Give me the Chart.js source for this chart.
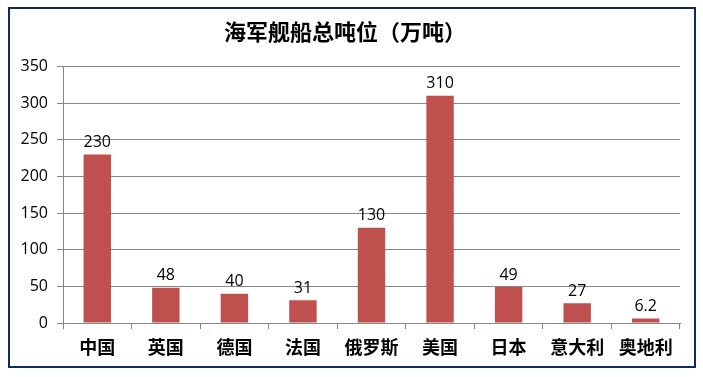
<!DOCTYPE html>
<html>
<head>
<meta charset="utf-8">
<script src="https://cdn.jsdelivr.net/npm/chart.js@4/dist/chart.umd.min.js"></script>
<style>
  body { margin: 0; background: #fff; }
  #box {
    position: absolute; left: 8px; top: 7px;
    width: 688px; height: 361px;
    border: 2px solid #0f2a5e; box-sizing: border-box;
  }
  canvas { display: block; }
</style>
</head>
<body>
<div id="box"><canvas id="chart" width="684" height="357"></canvas></div>
<script>
// 各国海军舰船总吨位
const countries = ['中国', '英国', '德国', '法国', '俄罗斯', '美国', '日本', '意大利', '奥地利'];
const tonnage = [230, 48, 40, 31, 130, 310, 49, 27, 6.2];
const yTicks = [0, 50, 100, 150, 200, 250, 300, 350];

const numFont = "'Open Sans', sans-serif";
const cjkFont = "'Noto Sans CJK SC', sans-serif";

// labels over the bars
const valueLabels = {
  id: 'valueLabels',
  afterDatasetsDraw(chart) {
    const ctx = chart.ctx;
    const meta = chart.getDatasetMeta(0);
    ctx.save();
    ctx.font = '16px ' + numFont;
    ctx.fillStyle = '#000';
    ctx.textAlign = 'center';
    ctx.textBaseline = 'bottom';
    meta.data.forEach((bar, i) => {
      ctx.fillText(String(tonnage[i]), bar.x, bar.y - 4);
    });
    ctx.restore();
  }
};

new Chart(document.getElementById('chart'), {
  type: 'bar',
  data: {
    labels: countries,
    datasets: [{
      data: tonnage,
      backgroundColor: '#c0504d',
      barPercentage: 0.4,
      categoryPercentage: 1.0
    }]
  },
  options: {
    responsive: false,
    animation: false,
    layout: { padding: { left: 0, right: 14, top: 0, bottom: 0 } },
    plugins: {
      legend: { display: false },
      tooltip: { enabled: false },
      title: {
        display: true,
        text: '海军舰船总吨位（万吨）',
        color: '#000',
        font: { family: cjkFont, size: 22, weight: 'bold' },
        padding: { top: 9, bottom: 22 }
      }
    },
    scales: {
      x: {
        grid: { display: true, drawOnChartArea: false, offset: true, color: '#868686', tickLength: 6 },
        border: { color: '#868686' },
        ticks: { color: '#000', font: { family: cjkFont, size: 18, weight: 'bold' }, padding: 7 },
        afterFit(scale) { scale.height = 43; }
      },
      y: {
        min: 0,
        max: 350,
        afterBuildTicks(scale) { scale.ticks = yTicks.map(v => ({ value: v })); },
        grid: { color: '#868686', tickLength: 6 },
        border: { color: '#868686' },
        ticks: { color: '#000', font: { family: numFont, size: 16 }, padding: 9 },
        afterFit(scale) { scale.width = 53; }
      }
    }
  },
  plugins: [valueLabels]
});
</script>
</body>
</html>
